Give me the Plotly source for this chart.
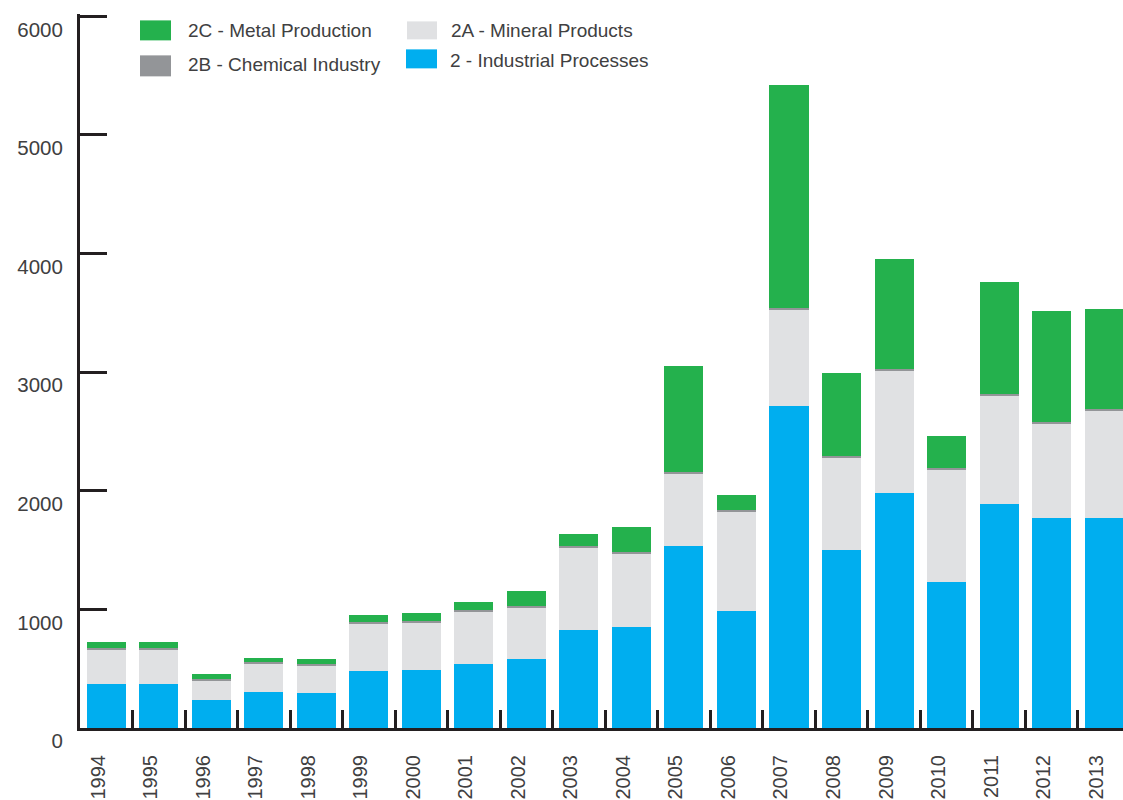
import plotly.graph_objects as go

years = ["1994", "1995", "1996", "1997", "1998", "1999", "2000", "2001", "2002", "2003",
         "2004", "2005", "2006", "2007", "2008", "2009", "2010", "2011", "2012", "2013"]

industrial_processes = [369, 370, 234, 304, 296, 481, 490, 538, 586, 824,
                        855, 1532, 987, 2718, 1501, 1984, 1234, 1892, 1768, 1774]
mineral_products = [291, 295, 167, 238, 229, 398, 400, 445, 433, 695,
                    614, 614, 841, 809, 779, 1030, 943, 913, 801, 900]
chemical_industry = [12, 12, 12, 12, 12, 12, 12, 12, 12, 12,
                     12, 12, 12, 12, 12, 12, 12, 12, 12, 12]
metal_production = [50, 48, 42, 39, 45, 61, 65, 65, 124, 104,
                    213, 895, 124, 1885, 697, 932, 269, 947, 936, 843]

series_names = ["2 - Industrial Processes", "2A - Mineral Products",
                "2B - Chemical Industry", "2C - Metal Production"]
series_colors = ["#00AEEF", "#E0E1E3", "#939598", "#24B14D"]
series_values = [industrial_processes, mineral_products, chemical_industry, metal_production]

y_ticks = [0, 1000, 2000, 3000, 4000, 5000, 6000]
Y_MAX = 6020

W, H = 1123, 800
ML, MR, MB = 80, 0, 72
PX_PER_UNIT = 0.11867
PH = Y_MAX * PX_PER_UNIT
MT = H - MB - PH
PW = W - ML - MR

TEXT = "#404041"
AXIS = "#231F20"
FONT = "Liberation Sans, Arial, sans-serif"

fig = go.Figure()
for name, color, vals in zip(series_names, series_colors, series_values):
    fig.add_trace(go.Bar(
        x=years, y=vals, name=name,
        marker=dict(color=color, line=dict(width=0)),
        showlegend=False,
    ))

def px_x(p):
    return (p - ML) / PW

def px_y(p):
    return (H - MB - p) / PH

# legend (swatch boxes + labels), positioned in pixels
legend_items = [
    ("2C - Metal Production", "#24B14D", 140, 20, 171, 40, 186, 30),
    ("2B - Chemical Industry", "#939598", 140, 55, 171, 76, 186, 64),
    ("2A - Mineral Products", "#E0E1E3", 407, 21, 437, 39, 449, 30),
    ("2 - Industrial Processes", "#00AEEF", 406, 49, 437, 68, 448, 60),
]
for label, color, x0, y0, x1, y1, tx, ty in legend_items:
    fig.add_shape(type="rect", xref="paper", yref="paper",
                  x0=px_x(x0), x1=px_x(x1), y0=px_y(y1), y1=px_y(y0),
                  fillcolor=color, line=dict(width=0), layer="above")
    fig.add_annotation(xref="paper", yref="paper", x=px_x(tx), y=px_y(ty),
                       text=label, showarrow=False, xanchor="left", yanchor="middle",
                       font=dict(family=FONT, size=19, color=TEXT))

fig.update_layout(
    width=W, height=H,
    margin=dict(l=ML, r=MR, t=MT, b=MB, pad=0, autoexpand=False),
    barmode="stack",
    bargap=0.257,
    plot_bgcolor="white",
    paper_bgcolor="white",
    font=dict(family=FONT, size=20, color=TEXT),
)
fig.update_xaxes(
    type="category",
    range=[-0.5, 19.36],
    showgrid=False, zeroline=False,
    showline=True, linewidth=3, linecolor=AXIS,
    ticks="inside", tickson="boundaries", ticklen=18, tickwidth=3, tickcolor=AXIS,
    tickangle=-90,
    tickfont=dict(family=FONT, size=20, color=TEXT),
    ticklabelstandoff=16,
    ticklabelshift=-8,
    automargin=False,
)
fig.update_yaxes(
    range=[0, Y_MAX],
    tickvals=y_ticks,
    ticktext=[str(v) for v in y_ticks],
    showgrid=False, zeroline=False,
    showline=True, linewidth=3, linecolor=AXIS,
    ticks="inside", ticklen=27, tickwidth=3, tickcolor=AXIS,
    tickfont=dict(family=FONT, size=20.5, color=TEXT),
    ticklabelshift=13,
    ticklabelstandoff=10,
    automargin=False,
)

fig.write_html("out.html", config={"displayModeBar": False},
               post_script="document.body.style.margin='0px';")
